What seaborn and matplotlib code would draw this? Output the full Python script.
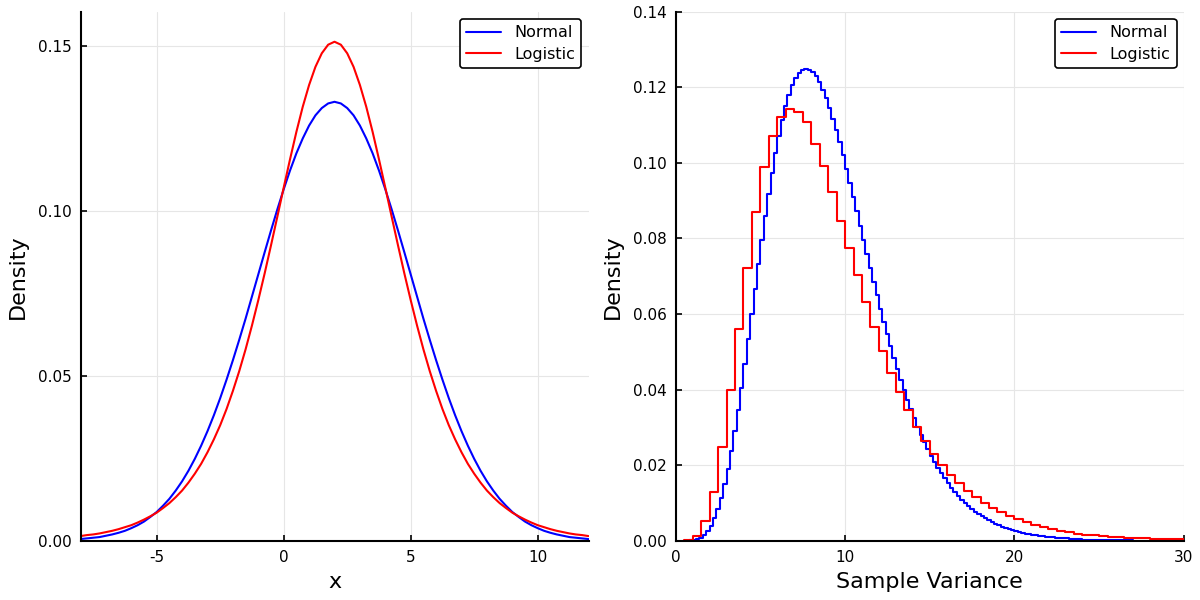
import numpy as np
import pandas as pd
import matplotlib
matplotlib.use("Agg")
import matplotlib.pyplot as plt
from matplotlib.ticker import FormatStrFormatter
import seaborn as sns

# left panel: densities on x grid -8..12 step 0.25
x_start, x_step = -8.0, 0.25
normal_pdf = [
    0.0005, 0.0007, 0.0009, 0.0011, 0.0015, 0.0019, 0.0024, 0.0030, 0.0038, 0.0047,
    0.0058, 0.0072, 0.0087, 0.0106, 0.0127, 0.0152, 0.0180, 0.0212, 0.0248, 0.0288,
    0.0332, 0.0380, 0.0432, 0.0488, 0.0547, 0.0609, 0.0673, 0.0740, 0.0807, 0.0874,
    0.0940, 0.1004, 0.1065, 0.1122, 0.1174, 0.1219, 0.1258, 0.1289, 0.1311, 0.1325,
    0.1330,
    0.1325, 0.1311, 0.1289, 0.1258, 0.1219, 0.1174, 0.1122, 0.1065, 0.1004, 0.0940,
    0.0874, 0.0807, 0.0740, 0.0673, 0.0609, 0.0547, 0.0488, 0.0432, 0.0380, 0.0332,
    0.0288, 0.0248, 0.0212, 0.0180, 0.0152, 0.0127, 0.0106, 0.0087, 0.0072, 0.0058,
    0.0047, 0.0038, 0.0030, 0.0024, 0.0019, 0.0015, 0.0011, 0.0009, 0.0007, 0.0005,
]
logistic_pdf = [
    0.0014, 0.0017, 0.0019, 0.0022, 0.0026, 0.0030, 0.0035, 0.0041, 0.0047, 0.0055,
    0.0064, 0.0074, 0.0085, 0.0099, 0.0114, 0.0132, 0.0152, 0.0176, 0.0203, 0.0233,
    0.0268, 0.0307, 0.0350, 0.0399, 0.0454, 0.0514, 0.0580, 0.0652, 0.0729, 0.0810,
    0.0895, 0.0982, 0.1070, 0.1156, 0.1239, 0.1315, 0.1381, 0.1436, 0.1477, 0.1503,
    0.1512,
    0.1503, 0.1477, 0.1436, 0.1381, 0.1315, 0.1239, 0.1156, 0.1070, 0.0982, 0.0895,
    0.0810, 0.0729, 0.0652, 0.0580, 0.0514, 0.0454, 0.0399, 0.0350, 0.0307, 0.0268,
    0.0233, 0.0203, 0.0176, 0.0152, 0.0132, 0.0114, 0.0099, 0.0085, 0.0074, 0.0064,
    0.0055, 0.0047, 0.0041, 0.0035, 0.0030, 0.0026, 0.0022, 0.0019, 0.0017, 0.0014,
]

# right panel: histogram heights of sample variance
normal_bin_start, normal_bin_width = 0.8, 0.2
normal_var_hist = [
    0.0001, 0.0002, 0.0004, 0.0008, 0.0015, 0.0026, 0.0040, 0.0059, 0.0084, 0.0113,
    0.0149, 0.0190, 0.0237, 0.0289, 0.0345, 0.0405, 0.0468, 0.0533, 0.0600, 0.0666,
    0.0732, 0.0797, 0.0859, 0.0918, 0.0974, 0.1025, 0.1072, 0.1113, 0.1150, 0.1180,
    0.1205, 0.1224, 0.1238, 0.1246, 0.1249, 0.1247, 0.1240, 0.1229, 0.1213, 0.1194,
    0.1171, 0.1146, 0.1117, 0.1087, 0.1054, 0.1020, 0.0984, 0.0947, 0.0910, 0.0872,
    0.0834, 0.0797, 0.0759, 0.0722, 0.0685, 0.0649, 0.0614, 0.0580, 0.0547, 0.0515,
    0.0484, 0.0454, 0.0426, 0.0399, 0.0373, 0.0348, 0.0325, 0.0302, 0.0281, 0.0261,
    0.0243, 0.0225, 0.0208, 0.0193, 0.0178, 0.0165, 0.0152, 0.0140, 0.0129, 0.0119,
    0.0109, 0.0100, 0.0092, 0.0084, 0.0077, 0.0071, 0.0065, 0.0059, 0.0054, 0.0049,
    0.0045, 0.0041, 0.0037, 0.0034, 0.0031, 0.0028, 0.0026, 0.0023, 0.0021, 0.0019,
    0.0017, 0.0016, 0.0014, 0.0013, 0.0012, 0.0011, 0.0010, 0.0009, 0.0008, 0.0007,
    0.0006, 0.0006, 0.0005, 0.0005, 0.0004, 0.0004, 0.0003, 0.0003, 0.0003, 0.0003,
    0.0002, 0.0002, 0.0002, 0.0002, 0.0001, 0.0001, 0.0001, 0.0001, 0.0001, 0.0001,
    0.0001,
]
logistic_bin_start, logistic_bin_width = 0.5, 0.5
logistic_var_hist = [
    0.0002, 0.0013, 0.0051, 0.0128, 0.0247, 0.0398, 0.0560, 0.0723, 0.0869, 0.0988,
    0.1072, 0.1121, 0.1143, 0.1134, 0.1107, 0.1050, 0.0991, 0.0922, 0.0845, 0.0775,
    0.0702, 0.0631, 0.0565, 0.0501, 0.0445, 0.0393, 0.0347, 0.0301, 0.0263, 0.0230,
    0.0201, 0.0175, 0.0153, 0.0131, 0.0116, 0.0100, 0.0087, 0.0075, 0.0065, 0.0057,
    0.0049, 0.0041, 0.0035, 0.0031, 0.0026, 0.0022, 0.0019, 0.0016, 0.0014, 0.0012,
    0.0010, 0.0009, 0.0008, 0.0007, 0.0006, 0.0005, 0.0005, 0.0004, 0.0004, 0.0003,
]

sns.set_style("white")
plt.rcParams['font.family'] = ['DejaVu Sans']
plt.rcParams['axes.unicode_minus'] = False
plt.rcParams['text.color'] = 'black'
plt.rcParams['axes.labelcolor'] = 'black'
plt.rcParams['xtick.color'] = 'black'
plt.rcParams['ytick.color'] = 'black'

xs = x_start + x_step * np.arange(len(normal_pdf))
df_pdf = pd.DataFrame({'x': xs, 'Normal': normal_pdf, 'Logistic': logistic_pdf})


def hist_frame(start, width, heights):
    # one row per bin: bin centre and its height used as weight
    n = len(heights)
    df = pd.DataFrame({'v': start + width * (np.arange(n) + 0.5), 'h': heights})
    return (start, start + width * n), df


fig = plt.figure(figsize=(12, 6), dpi=100)
ax1 = fig.add_axes([80.5 / 1200, 59.3 / 600, 508 / 1200, 529 / 600])
ax2 = fig.add_axes([675.7 / 1200, 59.3 / 600, 508 / 1200, 529 / 600])

sns.lineplot(data=df_pdf, x='x', y='Normal', color='blue', linewidth=1.5,
             estimator=None, label='Normal', ax=ax1)
sns.lineplot(data=df_pdf, x='x', y='Logistic', color='red', linewidth=1.5,
             estimator=None, label='Logistic', ax=ax1)

r1, h1 = hist_frame(normal_bin_start, normal_bin_width, normal_var_hist)
r2, h2 = hist_frame(logistic_bin_start, logistic_bin_width, logistic_var_hist)
sns.histplot(data=h1, x='v', weights='h', binwidth=normal_bin_width, binrange=r1,
             stat='count', element='step', fill=False, color='blue',
             linewidth=1.5, label='Normal', ax=ax2)
sns.histplot(data=h2, x='v', weights='h', binwidth=logistic_bin_width, binrange=r2,
             stat='count', element='step', fill=False, color='red',
             linewidth=1.5, label='Logistic', ax=ax2)

ax1.set_xlim(-8, 12)
ax1.set_ylim(0, 0.1603)
ax1.set_xticks([-5, 0, 5, 10])
ax1.set_yticks([0, 0.05, 0.10, 0.15])
ax1.set_xlabel('x', fontsize=16, labelpad=5)

ax2.set_xlim(0, 30)
ax2.set_ylim(0, 0.14)
ax2.set_xticks([0, 10, 20, 30])
ax2.set_yticks(np.arange(0, 0.141, 0.02))
ax2.set_xlabel('Sample Variance', fontsize=16, labelpad=5)

for ax in (ax1, ax2):
    ax.set_ylabel('Density', fontsize=16, labelpad=7)
    ax.yaxis.set_major_formatter(FormatStrFormatter('%.2f'))
    ax.grid(True, color='#e6e6e6', linewidth=0.8)
    ax.set_axisbelow(True)
    for s in ('top', 'right'):
        ax.spines[s].set_visible(False)
    for s in ('left', 'bottom'):
        ax.spines[s].set_color('black')
        ax.spines[s].set_linewidth(1.5)
    ax.tick_params(direction='in', length=4, width=1.2, labelsize=11,
                   colors='black', pad=6.5, left=True, bottom=True)
    leg = ax.legend(loc='upper right', fontsize=11.5, frameon=True, fancybox=True,
                    borderaxespad=0.45, handlelength=2.2, handletextpad=0.8,
                    borderpad=0.4, labelspacing=0.4)
    leg.get_frame().set_edgecolor('black')
    leg.get_frame().set_linewidth(1.2)
    leg.get_frame().set_alpha(1)
    for t in leg.get_texts():
        t.set_color('black')

fig.savefig('out.png', dpi=100)
